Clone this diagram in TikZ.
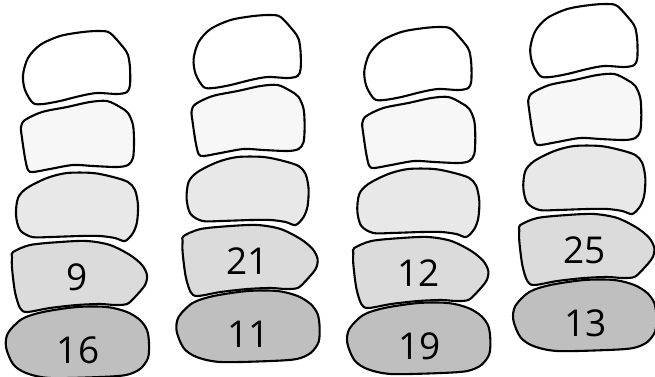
\documentclass[tikz,border=0pt]{standalone}
\usepackage{fontspec}
\setmainfont{Open Sans}
\begin{document}
\begin{tikzpicture}[x=1pt,y=-1pt,
  blob/.style={draw=black,line width=2.1pt,line join=round},
  num/.style={font=\fontsize{37}{42}\selectfont,inner sep=0pt,anchor=center}]
\useasboundingbox (0,0) rectangle (655,376);
\clip (0,0) rectangle (655,376);
\foreach \dx/\dy/\a/\b/\k in {0/0/9/16/1, 170.6/-16/21/11/2, 341.3/-4/12/19/3, 507.3/-27/25/13/4}{
  \begin{scope}[shift={(\dx,\dy)}]
    \filldraw[blob,fill=white] plot[smooth cycle] coordinates {(33,103) (25,90) (23,75) (28,58) (40,45) (60,36) (83,32) (100,31) (110,33) (123,47) (128,55) (130,68) (130,85) (127,92) (117,94) (97,93) (80,96) (60,101) (43,104)};
    \filldraw[blob,fill=black!3] plot[smooth cycle] coordinates {(25,120) (42,112) (67,107) (90,102) (107,101) (120,107) (128,113) (133,125) (134,142) (133,158) (128,165) (117,167) (93,166) (73,165) (50,169) (33,172) (28,170) (25,158) (22,138) (21,127)};
    \filldraw[blob,fill=black!9] plot[smooth cycle] coordinates {(27,188) (47,178) (67,173) (93,173) (113,177) (128,182) (135,190) (138,205) (137,222) (133,233) (125,241) (115,238) (100,236) (80,236) (50,237) (32,237) (20,230) (16,215) (18,198)};
    \filldraw[blob,fill=black!14] plot[smooth cycle] coordinates {(13,252) (30,245) (60,242) (87,241) (110,245) (130,255) (142,265) (147,275) (145,285) (135,297) (127,304) (115,305) (100,304) (77,305) (50,308) (27,312) (20,308) (15,292) (12,268) (12,257)};
    \filldraw[blob,fill=black!25] plot[smooth cycle] coordinates {(8,333) (22,319) (43,312) (77,307) (107,307) (127,312) (140,320) (147,330) (149,343) (148,358) (140,369) (126,375) (100,377) (50,378) (26,373) (13,364) (6,347)};
    \node[num] (up\k) at (77,277) {\a};
    \node[num] (lo\k) at (78,350) {\b};
  \end{scope}
}
\end{tikzpicture}
\end{document}
